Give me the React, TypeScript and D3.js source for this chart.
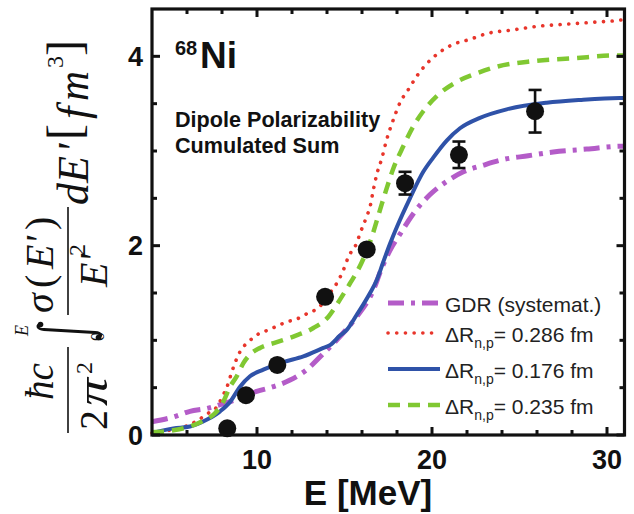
import React from "react";
import * as d3 from "d3";

const xTicksMajor = [10, 20, 30];
const xTicksMinor = [6, 8, 12, 14, 16, 18, 22, 24, 26, 28];
const yTicksMajor = [0, 2, 4];
const yTicksMinor = [0.5, 1, 1.5, 2.5, 3, 3.5];

const dataE = [8.3, 9.37, 11.16, 13.89, 16.27, 18.46, 21.54, 25.89];
const dataV = [0.07, 0.42, 0.74, 1.46, 1.96, 2.66, 2.96, 3.42];
const dataErr = [0, 0, 0, 0, 0, 0.12, 0.14, 0.225];

const redE = [4, 5, 6.17, 6.65, 7.22, 7.79, 8.0, 8.27, 8.55, 8.74, 9.03, 9.31, 9.6, 10.02, 10.51, 11.03, 11.5, 11.98, 12.46, 12.93, 13.31, 13.75, 14.17, 14.55, 14.93, 15.22, 15.7, 15.89, 16.27, 16.46, 16.65, 16.84, 17.13, 17.41, 17.79, 18.17, 18.65, 19.13, 19.5, 20.27, 21.13, 22.17, 23.13, 24.65, 26.17, 27.7, 29.22, 30.65, 31];
const redV = [0.02, 0.05, 0.11, 0.16, 0.23, 0.32, 0.4, 0.5, 0.66, 0.76, 0.88, 0.95, 1.0, 1.06, 1.1, 1.14, 1.18, 1.21, 1.24, 1.29, 1.32, 1.39, 1.5, 1.6, 1.74, 1.88, 2.03, 2.13, 2.31, 2.41, 2.59, 2.75, 2.92, 3.12, 3.33, 3.51, 3.65, 3.79, 3.88, 4.02, 4.12, 4.18, 4.24, 4.28, 4.32, 4.34, 4.36, 4.38, 4.39];

const greenE = [4, 5.22, 6.17, 7.03, 7.6, 8.07, 8.46, 8.84, 9.22, 9.6, 10.17, 11.13, 12.08, 13.22, 14.08, 14.74, 15.31, 15.7, 16.1, 16.5, 17.0, 17.4, 17.8, 18.36, 18.93, 19.5, 20.27, 21.41, 22.55, 23.7, 25.79, 28.08, 30.65, 31];
const greenV = [0.03, 0.05, 0.09, 0.16, 0.23, 0.35, 0.51, 0.62, 0.76, 0.85, 0.92, 0.98, 1.04, 1.13, 1.25, 1.43, 1.6, 1.72, 1.87, 2.06, 2.36, 2.6, 2.82, 3.05, 3.26, 3.42, 3.58, 3.73, 3.82, 3.89, 3.95, 3.98, 4.01, 4.01];

const blueE = [4, 5.22, 6.17, 7.12, 7.89, 8.46, 9.03, 9.6, 10.36, 11.5, 12.65, 13.79, 14.17, 14.74, 15.13, 15.7, 16.08, 16.46, 16.85, 17.2, 17.6, 18.0, 18.74, 19.5, 20.07, 20.84, 21.6, 22.74, 24.27, 26.55, 28.46, 30.74, 31];
const blueV = [0.02, 0.07, 0.09, 0.16, 0.25, 0.35, 0.51, 0.62, 0.69, 0.77, 0.83, 0.92, 0.95, 1.05, 1.11, 1.27, 1.38, 1.5, 1.64, 1.82, 2.02, 2.2, 2.5, 2.78, 2.93, 3.11, 3.24, 3.35, 3.44, 3.51, 3.54, 3.56, 3.56];

const gdrE = [4, 5.22, 6.17, 7.12, 8.07, 9.03, 9.98, 10.93, 11.89, 12.84, 13.79, 14.74, 15.7, 16.65, 17.1, 17.6, 18.2, 18.9, 19.89, 20.93, 21.79, 22.93, 24.07, 25.5, 26.93, 28.84, 30.84, 31];
const gdrV = [0.14, 0.19, 0.25, 0.28, 0.33, 0.39, 0.46, 0.51, 0.58, 0.69, 0.86, 1.04, 1.25, 1.53, 1.75, 1.95, 2.13, 2.33, 2.54, 2.69, 2.78, 2.85, 2.91, 2.95, 2.99, 3.02, 3.05, 3.05];

const legendLabels = ["GDR (systemat.)", "= 0.286 fm", "= 0.176 fm", "= 0.235 fm"];

const C_GDR = "#b45cc8";
const C_RED = "#e8352b";
const C_BLUE = "#2f52a8";
const C_GREEN = "#80c832";

const SANS = "'Liberation Sans', Arial, sans-serif";
const SERIF = "'Liberation Serif', 'Times New Roman', serif";

export default function App() {
  const x = d3.scaleLinear().domain([4, 31]).range([152, 624.5]);
  const y = d3.scaleLinear().domain([0, 4.5]).range([435, 9]);
  const line = (es: number[], vs: number[]) =>
    d3
      .line<number>()
      .x((_, i) => x(es[i]))
      .y((d) => y(d))
      .curve(d3.curveMonotoneX)(vs) || "";

  const [x0, x1] = x.range();
  const [yb, yt] = y.range();

  const legendRows = [
    { y: 303, color: C_GDR, dash: "16 7 4 7", w: 5, cap: "butt", label: legendLabels[0], delta: false },
    { y: 333, color: C_RED, dash: "0.1 8.6", w: 3.6, cap: "round", label: legendLabels[1], delta: true },
    { y: 369, color: C_BLUE, dash: "", w: 4, cap: "butt", label: legendLabels[2], delta: true },
    { y: 405, color: C_GREEN, dash: "12 8", w: 4.5, cap: "butt", label: legendLabels[3], delta: true },
  ];

  return (
    <svg width={634} height={514} style={{ position: "absolute", left: 0, top: 0, background: "#fff" }}>
      <rect width={634} height={514} fill="#fff" />
      {/* curves */}
      <path d={line(gdrE, gdrV)} fill="none" stroke={C_GDR} strokeWidth={5} strokeDasharray="16 7 4 7" />
      <path d={line(redE, redV)} fill="none" stroke={C_RED} strokeWidth={3.6} strokeDasharray="0.1 8.6" strokeLinecap="round" />
      <path d={line(blueE, blueV)} fill="none" stroke={C_BLUE} strokeWidth={4} />
      <path d={line(greenE, greenV)} fill="none" stroke={C_GREEN} strokeWidth={4.5} strokeDasharray="12 8" />

      {/* data points */}
      {dataE.map((e, i) => {
        const cx = x(e);
        const cy = y(dataV[i]);
        const err = dataErr[i];
        return (
          <g key={i}>
            {err > 0 && (
              <g stroke="#111" strokeWidth={2.6}>
                <line x1={cx} x2={cx} y1={y(dataV[i] + err)} y2={y(dataV[i] - err)} />
                <line x1={cx - 6.5} x2={cx + 6.5} y1={y(dataV[i] + err)} y2={y(dataV[i] + err)} />
                <line x1={cx - 6.5} x2={cx + 6.5} y1={y(dataV[i] - err)} y2={y(dataV[i] - err)} />
              </g>
            )}
            <circle cx={cx} cy={cy} r={9} fill="#111" />
          </g>
        );
      })}

      {/* frame */}
      <rect x={x0} y={yt} width={x1 - x0} height={yb - yt} fill="none" stroke="#111" strokeWidth={3.2} />
      <g stroke="#111" strokeWidth={3}>
        {xTicksMajor.map((t) => (
          <g key={"xm" + t}>
            <line x1={x(t)} x2={x(t)} y1={yb} y2={yb - 8} />
            <line x1={x(t)} x2={x(t)} y1={yt} y2={yt + 8} />
          </g>
        ))}
        {xTicksMinor.map((t) => (
          <g key={"xn" + t}>
            <line x1={x(t)} x2={x(t)} y1={yb} y2={yb - 5} />
            <line x1={x(t)} x2={x(t)} y1={yt} y2={yt + 5} />
          </g>
        ))}
        {yTicksMajor.map((t) => (
          <g key={"ym" + t}>
            <line x1={x0} x2={x0 + 8} y1={y(t)} y2={y(t)} />
            <line x1={x1} x2={x1 - 8} y1={y(t)} y2={y(t)} />
          </g>
        ))}
        {yTicksMinor.map((t) => (
          <g key={"yn" + t}>
            <line x1={x0} x2={x0 + 5} y1={y(t)} y2={y(t)} />
            <line x1={x1} x2={x1 - 5} y1={y(t)} y2={y(t)} />
          </g>
        ))}
      </g>
      <g fontFamily={SANS} fontWeight="bold" fontSize={27} fill="#111">
        {xTicksMajor.map((t) => (
          <text key={"xl" + t} x={x(t)} y={469} textAnchor="middle">
            {t}
          </text>
        ))}
        {yTicksMajor.map((t) => (
          <text key={"yl" + t} x={143} y={y(t) + 9.5} textAnchor="end">
            {t}
          </text>
        ))}
      </g>
      <text x={368} y={505} textAnchor="middle" fontFamily={SANS} fontWeight="bold" fontSize={35} fill="#111">
        E [MeV]
      </text>

      {/* annotations */}
      <g fontFamily={SANS} fontWeight="bold" fill="#111">
        <text x={175} y={55} fontSize={20}>68</text>
        <text x={200} y={68} fontSize={37}>Ni</text>
        <text x={175} y={127} fontSize={21.6}>Dipole Polarizability</text>
        <text x={175} y={153} fontSize={21.6}>Cumulated Sum</text>
      </g>

      {/* legend */}
      {legendRows.map((r, i) => (
        <g key={"lg" + i}>
          <line
            x1={388}
            x2={440}
            y1={r.y}
            y2={r.y}
            stroke={r.color}
            strokeWidth={r.w}
            strokeDasharray={r.dash || undefined}
            strokeLinecap={r.cap as any}
          />
          {r.delta ? (
            <text x={445} y={r.y + 9} fontFamily={SANS} fontSize={21} fill="#222">
              ΔR
              <tspan fontSize={14} dy={6}>n,p</tspan>
              <tspan dy={-6}>{r.label}</tspan>
            </text>
          ) : (
            <text x={445} y={r.y + 9} fontFamily={SANS} fontSize={21} fill="#222">
              {r.label}
            </text>
          )}
        </g>
      ))}

      {/* y axis label (rotated math) */}
      <g transform="translate(0,514) rotate(-90)" fontFamily={SERIF} fill="#111">
        <text x={114} y={53} fontSize={40} fontStyle="italic" textLength={37} lengthAdjust="spacingAndGlyphs">ħc</text>
        <line x1={81} x2={167} y1={68} y2={68} stroke="#111" strokeWidth={1.6} />
        <text x={84} y={107} fontSize={40}>2</text>
        <text x={108} y={107} fontSize={44} fontStyle="italic" textLength={28} lengthAdjust="spacingAndGlyphs">π</text>
        <text x={140} y={92} fontSize={24}>2</text>
        <path d="M190,41 C189,36 185,37 184.5,44 L181.5,95 C181,102 177,102 176.5,98" fill="none" stroke="#111" strokeWidth={2.8} />
        <circle cx={189.5} cy={40.5} r={2.8} />
        <circle cx={176.5} cy={98.5} r={2.8} />
        <text x={178} y={28} fontSize={18} fontStyle="italic">E</text>
        <text x={173} y={104} fontSize={18}>0</text>
        <text x={201} y={53} fontSize={40} fontStyle="italic">σ</text>
        <text x={226} y={53} fontSize={40}>(</text>
        <text x={245} y={53} fontSize={40} fontStyle="italic">E'</text>
        <text x={284} y={53} fontSize={40}>)</text>
        <line x1={199} x2={307} y1={68} y2={68} stroke="#111" strokeWidth={1.6} />
        <text x={227} y={107} fontSize={40} fontStyle="italic">E'</text>
        <text x={258} y={85} fontSize={24}>2</text>
        <text x={309} y={88} fontSize={44} fontStyle="italic">d</text>
        <text x={331} y={88} fontSize={44} fontStyle="italic">E</text>
        <text x={361} y={88} fontSize={44} fontStyle="italic">'</text>
        <text x={374} y={80} fontSize={48}>[</text>
        <text x={395} y={88} fontSize={44} fontStyle="italic">f</text>
        <text x={413} y={88} fontSize={44} fontStyle="italic" textLength={30} lengthAdjust="spacingAndGlyphs">m</text>
        <text x={446} y={63} fontSize={24}>3</text>
        <text x={458} y={80} fontSize={48}>]</text>
      </g>
    </svg>
  );
}
